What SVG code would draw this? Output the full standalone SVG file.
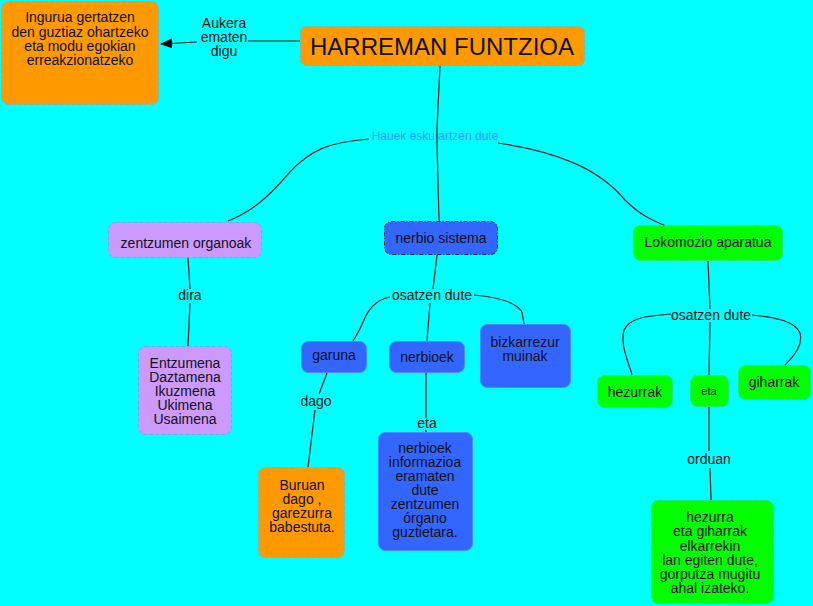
<svg xmlns="http://www.w3.org/2000/svg" width="813" height="606" viewBox="0 0 813 606">
<style>
.t{font-family:"Liberation Sans",Arial,sans-serif;font-size:14px;fill:#111;text-anchor:middle}
.lb{font-family:"Liberation Sans",Arial,sans-serif;font-size:14px;fill:#111;text-anchor:middle}
.c{fill:none;stroke:#222;stroke-width:1.2}
.or{fill:#FF9900;stroke:#7FB2B2;stroke-dasharray:4 2}
.li{fill:#CC99FF;stroke:#6FB0E0;stroke-dasharray:4 2}
.bl{fill:#3366FF;stroke:#4D88FF}
.gr{fill:#00FF00;stroke:#33DD66;stroke-dasharray:4 2}
</style>
<defs>
<marker id="ah" markerWidth="12" markerHeight="10" refX="11" refY="5" orient="auto" markerUnits="userSpaceOnUse">
<path d="M0,0 L12,5 L0,10 Z" fill="#000"/>
</marker>
</defs>
<rect width="813" height="606" fill="#00FFFF"/>
<g id="connectors">
<path class="c" d="M300,41 L248,41"/>
<path class="c" d="M197,42 L161,44" marker-end="url(#ah)"/>
<path class="c" d="M440,66 L437,128"/>
<path class="c" d="M437,143 L439,221"/>
<path class="c" d="M437,128 L437,143"/>
<path class="c" d="M369,139 C330,142 310,150 290,172 C270,195 255,210 228,221"/>
<path class="c" d="M498,143 C560,152 600,170 625,200 C640,215 652,220 666,226"/>
<path class="c" d="M188,258 L190,289"/>
<path class="c" d="M190,303 L188,346"/>
<path class="c" d="M437,255 L433,289"/>
<path class="c" d="M390,297 C375,300 368,310 363,322 C360,330 356,336 353,341"/>
<path class="c" d="M430,303 L427,341"/>
<path class="c" d="M474,295 C505,298 518,305 522,312 L524,324"/>
<path class="c" d="M327,373 L319,394"/>
<path class="c" d="M315,410 L308,467"/>
<path class="c" d="M426,373 L426,418"/>
<path class="c" d="M426,430 L426,432"/>
<path class="c" d="M708,261 L710,309"/>
<path class="c" d="M671,314 C645,316 630,318 624,330 C620,345 628,360 632,375"/>
<path class="c" d="M752,315 C780,318 795,322 800,333 C803,345 795,355 785,365"/>
<path class="c" d="M710,322 L709,375"/>
<path class="c" d="M709,407 L709,451"/>
<path class="c" d="M710,468 L711,500"/>
</g>
<g id="n_ingurua">
<rect class="or" x="1.5" y="1.5" width="157" height="103" rx="7"/>
<text class="t" x="80" y="22">Ingurua gertatzen</text>
<text class="t" x="80" y="36.5">den guztiaz ohartzeko</text>
<text class="t" x="80" y="51">eta modu egokian</text>
<text class="t" x="80" y="65">erreakzionatzeko</text>
</g>
<g id="l_aukera">
<text class="lb" x="224" y="28">Aukera</text>
<text class="lb" x="224" y="42">ematen</text>
<text class="lb" x="224" y="56">digu</text>
</g>
<g id="n_harreman">
<rect class="or" x="300.5" y="26.5" width="284" height="39" rx="6"/>
<text class="t" x="442" y="55" style="font-size:24px">HARREMAN FUNTZIOA</text>
</g>
<g id="l_hauek">
<text class="lb" x="435" y="140" style="font-size:12px;fill:#3399FF">Hauek esku artzen dute</text>
</g>
<g id="n_zentzumen">
<rect class="li" x="108.5" y="222.5" width="153" height="35" rx="7"/>
<text class="t" x="186" y="248">zentzumen organoak</text>
</g>
<g id="n_nerbiosistema">
<rect x="384.5" y="221.5" width="113" height="33" rx="7" fill="#3366FF" stroke="#1a1a3a" stroke-dasharray="4 2 1 2"/>
<text class="t" x="441" y="243">nerbio sistema</text>
</g>
<g id="n_lokomozio">
<rect class="gr" x="633.5" y="225.5" width="149" height="35" rx="7"/>
<text class="t" x="708" y="247">Lokomozio aparatua</text>
</g>
<g id="l_dira"><text class="lb" x="190" y="300">dira</text></g>
<g id="l_osatzen1"><text class="lb" x="432" y="300">osatzen dute</text></g>
<g id="l_osatzen2"><text class="lb" x="711" y="320">osatzen dute</text></g>
<g id="n_entzumena">
<rect class="li" x="138.5" y="346.5" width="93" height="88" rx="7"/>
<text class="t" x="185" y="368">Entzumena</text>
<text class="t" x="185" y="382">Daztamena</text>
<text class="t" x="185" y="396">Ikuzmena</text>
<text class="t" x="185" y="410">Ukimena</text>
<text class="t" x="185" y="424">Usaimena</text>
</g>
<g id="n_garuna">
<rect class="bl" x="301.5" y="341.5" width="65" height="31" rx="7"/>
<text class="t" x="334" y="360">garuna</text>
</g>
<g id="n_nerbioek">
<rect class="bl" x="389.5" y="341.5" width="75" height="31" rx="7"/>
<text class="t" x="427" y="362">nerbioek</text>
</g>
<g id="n_bizkarrezur">
<rect class="bl" x="480.5" y="324.5" width="90" height="63" rx="7"/>
<text class="t" x="525" y="347">bizkarrezur</text>
<text class="t" x="525" y="361">muinak</text>
</g>
<g id="l_dago"><text class="lb" x="316" y="406">dago</text></g>
<g id="l_eta1"><text class="lb" x="427" y="428">eta</text></g>
<g id="n_buruan">
<rect class="or" x="258.5" y="467.5" width="86" height="90" rx="7"/>
<text class="t" x="302" y="490">Buruan</text>
<text class="t" x="302" y="504">dago ,</text>
<text class="t" x="302" y="518">garezurra</text>
<text class="t" x="302" y="532">babestuta.</text>
</g>
<g id="n_informazioa">
<rect class="bl" x="378.5" y="432.5" width="94" height="118" rx="7"/>
<text class="t" x="425" y="453">nerbioek</text>
<text class="t" x="425" y="467">informazioa</text>
<text class="t" x="425" y="481">eramaten</text>
<text class="t" x="425" y="495">dute</text>
<text class="t" x="425" y="509">zentzumen</text>
<text class="t" x="425" y="523">órgano</text>
<text class="t" x="425" y="537">guztietara.</text>
</g>
<g id="n_hezurrak">
<rect class="gr" x="597.5" y="375.5" width="75" height="32" rx="7"/>
<text class="t" x="635" y="397">hezurrak</text>
</g>
<g id="n_eta">
<rect class="gr" x="690.5" y="375.5" width="38" height="31" rx="7"/>
<text class="t" x="709" y="395" style="font-size:11px">eta</text>
</g>
<g id="n_giharrak">
<rect class="gr" x="738.5" y="365.5" width="72" height="34" rx="7"/>
<text class="t" x="774" y="387">giharrak</text>
</g>
<g id="l_orduan"><text class="lb" x="709" y="464">orduan</text></g>
<g id="n_hezurra">
<rect class="gr" x="651.5" y="500.5" width="122" height="103" rx="7"/>
<text class="t" x="710" y="522">hezurra</text>
<text class="t" x="710" y="536">eta giharrak</text>
<text class="t" x="710" y="550.5">elkarrekin</text>
<text class="t" x="710" y="565">lan egiten dute,</text>
<text class="t" x="710" y="579">gorputza mugitu</text>
<text class="t" x="710" y="593">ahal izateko.</text>
</g>
</svg>
